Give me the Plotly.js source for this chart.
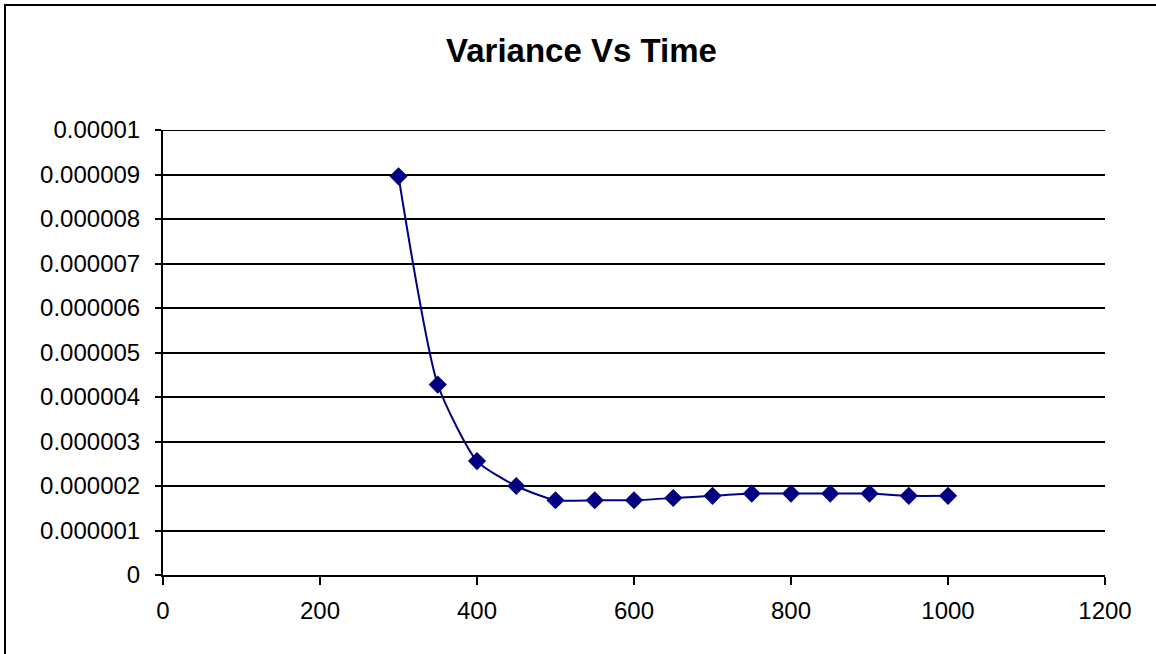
<!DOCTYPE html>
<html>
<head>
<meta charset="utf-8">
<script src="https://cdn.plot.ly/plotly-3.0.1.min.js"></script>
<style>
html,body{margin:0;padding:0;background:#fff;}
#wrap{position:relative;width:1156px;height:654px;}
#chart{width:1156px;height:654px;}
#frame{position:absolute;left:4px;top:4px;width:1200px;height:700px;border-left:2px solid #000;border-top:2px solid #000;pointer-events:none;}
</style>
</head>
<body>
<div id="wrap"><div id="chart"></div><div id="frame"></div></div>
<script>
const time = [300, 350, 400, 450, 500, 550, 600, 650, 700, 750, 800, 850, 900, 950, 1000];
const variance = [0.00000896, 0.00000428, 0.00000256, 0.00000200, 0.00000168, 0.00000168, 0.00000168, 0.00000173, 0.00000178, 0.00000183, 0.00000183, 0.00000183, 0.00000183, 0.00000178, 0.00000178];
const yTickVals = [0, 0.000001, 0.000002, 0.000003, 0.000004, 0.000005, 0.000006, 0.000007, 0.000008, 0.000009, 0.00001];
const yTickText = ['0', '0.000001', '0.000002', '0.000003', '0.000004', '0.000005', '0.000006', '0.000007', '0.000008', '0.000009', '0.00001'];
const xTickVals = [0, 200, 400, 600, 800, 1000, 1200];
const yMax = 0.00001;

const trace = {
  x: time, y: variance, type: 'scatter', mode: 'lines+markers',
  line: {color: '#000080', width: 2, shape: 'spline', smoothing: 0.6},
  marker: {symbol: 'diamond', size: 14, color: '#000080'},
  hoverinfo: 'skip'
};
const font = 'Arial, Liberation Sans, sans-serif';
const layout = {
  width: 1156, height: 654,
  margin: {l: 163, r: 51, t: 130, b: 79},
  paper_bgcolor: '#fff', plot_bgcolor: '#fff',
  showlegend: false,
  title: {text: '<b>Variance Vs Time</b>', font: {family: font, size: 33, color: '#000'},
          x: 0.503, xanchor: 'center', y: 1 - 50/654, yanchor: 'middle', yref: 'container', xref: 'container'},
  xaxis: {range: [0, 1200], tickvals: xTickVals, ticktext: xTickVals.map(String), showgrid: false, zeroline: false,
          showline: true, linecolor: '#000', linewidth: 2, ticks: 'outside', ticklen: 8, tickwidth: 2, tickcolor: '#000',
          tickfont: {family: font, size: 24, color: '#000'}, ticklabelstandoff: 5},
  yaxis: {range: [0, yMax], tickvals: yTickVals, ticktext: yTickText, showgrid: true, gridcolor: '#000', gridwidth: 2,
          zeroline: false, showline: true, linecolor: '#000', linewidth: 2, ticks: 'outside', ticklen: 6, tickwidth: 2, tickcolor: '#000',
          tickfont: {family: font, size: 24, color: '#000'}, ticklabelstandoff: 10},
  shapes: [{type: 'line', xref: 'paper', yref: 'y', x0: 0, x1: 1, y0: yMax, y1: yMax, line: {color: '#000', width: 2}, layer: 'below'}]
};
Plotly.newPlot('chart', [trace], layout, {displayModeBar: false, staticPlot: true});
</script>
</body>
</html>
